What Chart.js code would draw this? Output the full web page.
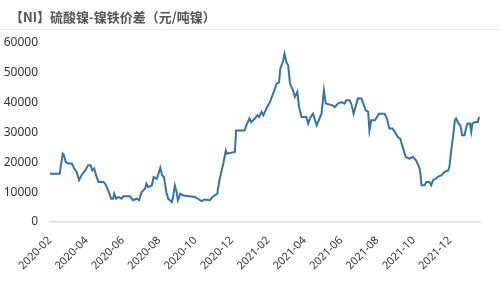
<!DOCTYPE html>
<html>
<head>
<meta charset="utf-8">
<script src="https://cdn.jsdelivr.net/npm/chart.js@4/dist/chart.umd.min.js"></script>
<style>
  html, body { margin: 0; padding: 0; background: #fff; }
  #wrap { width: 500px; height: 297px; position: relative; overflow: hidden; }
  #title { position: absolute; left: 10px; top: 8px; font-family: 'Noto Sans CJK SC', sans-serif; font-size: 13px; font-weight: bold; color: #555; white-space: nowrap; line-height: 18px; }
  #sep { position: absolute; left: 0; top: 29px; width: 500px; height: 0; border-top: 1px solid #ebebeb; }
  canvas { position: absolute; left: 0; top: 0; }
</style>
</head>
<body>
<div id="wrap">
  <canvas id="c" width="500" height="297"></canvas>
  <div id="title"></div>
  <div id="sep"></div>
</div>
<script>
const chartTitle = "【NI】硫酸镍-镍铁价差（元/吨镍）";
const yTicks = [0, 10000, 20000, 30000, 40000, 50000, 60000];
const xTickMonths = ["2020-02","2020-04","2020-06","2020-08","2020-10","2020-12","2021-02","2021-04","2021-06","2021-08","2021-10","2021-12"];
const dates = [
"2020-02-01","2020-02-17","2020-02-22","2020-02-24","2020-02-27","2020-03-01","2020-03-07","2020-03-11","2020-03-15","2020-03-19",
"2020-03-23","2020-03-29","2020-04-04","2020-04-08","2020-04-11","2020-04-14","2020-04-17","2020-04-21","2020-04-29","2020-05-02",
"2020-05-07","2020-05-12","2020-05-15","2020-05-17","2020-05-20","2020-05-24","2020-05-29","2020-06-02","2020-06-13","2020-06-18",
"2020-06-24","2020-06-28","2020-07-02","2020-07-08","2020-07-10","2020-07-13","2020-07-19","2020-07-22","2020-07-27","2020-07-30",
"2020-08-03","2020-08-06","2020-08-09","2020-08-13","2020-08-16","2020-08-22","2020-08-24","2020-08-27","2020-08-30","2020-09-02",
"2020-09-06","2020-09-11","2020-09-30","2020-10-05","2020-10-11","2020-10-16","2020-10-25","2020-10-29","2020-11-03","2020-11-07",
"2020-11-11","2020-11-17","2020-11-21","2020-11-23","2020-12-06","2020-12-08","2020-12-22","2020-12-25","2020-12-30","2021-01-03",
"2021-01-09","2021-01-13","2021-01-16","2021-01-20","2021-01-23","2021-01-28","2021-02-04","2021-02-09","2021-02-15","2021-02-19",
"2021-02-21","2021-02-26","2021-02-28","2021-03-01","2021-03-04","2021-03-07","2021-03-12","2021-03-15","2021-03-19","2021-03-22",
"2021-03-26","2021-04-04","2021-04-07","2021-04-11","2021-04-15","2021-04-21","2021-04-29","2021-05-03","2021-05-06","2021-05-17",
"2021-05-21","2021-05-26","2021-06-02","2021-06-07","2021-06-10","2021-06-15","2021-06-18","2021-06-22","2021-06-25","2021-06-29",
"2021-07-05","2021-07-09","2021-07-12","2021-07-16","2021-07-18","2021-07-21","2021-07-27","2021-08-04","2021-08-13","2021-08-17",
"2021-08-21","2021-08-26","2021-08-30","2021-09-05","2021-09-09","2021-09-13","2021-09-18","2021-09-24","2021-09-30","2021-10-05",
"2021-10-10","2021-10-12","2021-10-14","2021-10-19","2021-10-22","2021-10-27","2021-10-30","2021-11-03","2021-11-07","2021-11-11",
"2021-11-17","2021-11-22","2021-11-28","2021-11-30","2021-12-03","2021-12-06","2021-12-09","2021-12-11","2021-12-15","2021-12-18",
"2021-12-21","2021-12-25","2021-12-28","2021-12-30","2022-01-04","2022-01-06","2022-01-08","2022-01-13","2022-01-17","2022-01-19"
];
const spread = [
16200,16200,22900,22400,20100,19600,19600,17900,16800,14000,
15700,17300,19000,19000,17300,17900,15700,13400,13400,12900,
10600,7800,7800,9500,7800,8400,7800,8600,8600,7300,
7800,7300,10000,11200,12900,11700,12300,15100,14500,16200,
18200,15700,15100,10000,7800,6700,8400,12300,10000,7300,
9500,8900,8400,7800,7000,7500,7300,8400,8900,9500,
14500,19600,24000,22900,23500,30700,30700,32400,34700,33500,
34700,35800,35200,36900,35800,38000,40200,43000,46400,46900,
51400,54200,56400,53600,52500,46400,44100,41900,43600,38500,
35200,35200,33000,35200,36300,32400,36300,44100,39700,39100,
38500,39700,40200,39700,40800,40800,39700,36300,38500,41400,
41400,39100,37400,36900,30700,34100,34100,36300,36300,34700,
31300,31300,30200,28500,27900,25100,21800,21200,21800,20700,
18400,16800,12300,12300,13400,13400,12300,14000,14500,15100,
15700,16800,17300,18400,24000,28500,34100,34700,33000,32400,
29100,29100,31800,33000,33000,30200,33000,33500,33500,35200
];

document.getElementById("title").textContent = chartTitle;

function monthPos(s) {
  const [y, m, d] = s.split("-").map(Number);
  return (y - 2020) * 12 + (m - 2) + (d - 1) / 30;
}
const points = dates.map((d, i) => ({ x: monthPos(d), y: spread[i] }));
const xTickValues = xTickMonths.map(s => monthPos(s + "-01"));

new Chart(document.getElementById("c"), {
  type: "line",
  data: {
    datasets: [{
      data: points,
      borderColor: "#3673a2",
      borderWidth: 2,
      pointRadius: 0,
      tension: 0,
      fill: false
    }]
  },
  options: {
    responsive: false,
    animation: false,
    layout: { padding: { left: 0, right: 20, top: 43, bottom: 0 } },
    plugins: {
      legend: { display: false },
      tooltip: { enabled: false },
      title: { display: false }
    },
    scales: {
      x: {
        type: "linear",
        min: 0,
        max: 23.65,
        grid: { display: false },
        border: { display: true, color: "#dcdcdc", width: 1.5 },
        afterBuildTicks(scale) { scale.ticks = xTickValues.map(v => ({ value: v })); },
        afterFit(scale) { scale.height = 75; },
        ticks: {
          autoSkip: false,
          minRotation: 45,
          maxRotation: 45,
          padding: 4,
          color: "#333333",
          font: { family: "'Noto Sans', sans-serif", size: 11 },
          callback(v) {
            const idx = xTickValues.indexOf(v);
            return idx >= 0 ? xTickMonths[idx] : "";
          }
        }
      },
      y: {
        min: 0,
        max: 60000,
        grid: { display: false, drawTicks: false },
        border: { display: false },
        afterBuildTicks(scale) { scale.ticks = yTicks.map(v => ({ value: v })); },
        afterFit(scale) { scale.width = 50; },
        ticks: {
          padding: 12,
          color: "#333333",
          font: { family: "'Noto Sans', sans-serif", size: 12 },
          callback(v) { return String(v); }
        }
      }
    }
  }
});
</script>
</body>
</html>
